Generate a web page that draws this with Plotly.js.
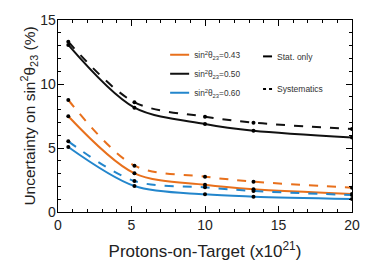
<!DOCTYPE html>
<html><head><meta charset="utf-8">
<script src="https://cdn.plot.ly/plotly-3.0.1.min.js"></script>
<style>html,body{margin:0;padding:0;background:#fff}#c{width:392px;height:266px}</style>
</head><body><div id="c"></div>
<script>
var pot = [0.7, 5.2, 10, 13.3, 20];
var stat043 = [7.48, 3.02, 2.12, 1.77, 1.41];
var syst043 = [8.75, 3.62, 2.76, 2.37, 1.90];
var stat050 = [13.05, 8.15, 6.88, 6.35, 5.83];
var syst050 = [13.30, 8.57, 7.45, 6.98, 6.48];
var stat060 = [5.08, 2.03, 1.38, 1.20, 1.02];
var syst060 = [5.52, 2.42, 1.93, 1.64, 1.33];
var seriesLabels = ['sin<sup>2</sup>θ<sub>23</sub>=0.43','sin<sup>2</sup>θ<sub>23</sub>=0.50','sin<sup>2</sup>θ<sub>23</sub>=0.60'];
var styleLabels = ['Stat. only','Systematics'];

var colors = ['#e8701c','#111111','#2386cc'];
var statSets = [stat043, stat050, stat060];
var systSets = [syst043, syst050, syst060];
var traces = [];
for (var i=0;i<3;i++){
  traces.push({x:pot, y:systSets[i], mode:'lines+markers', line:{color:colors[i], width:2, dash:'dash', shape:'spline', smoothing:0.9},
    marker:{color:'#000', size:4}, showlegend:false, hoverinfo:'skip'});
  traces.push({x:pot, y:statSets[i], mode:'lines+markers', line:{color:colors[i], width:2, shape:'spline', smoothing:0.9},
    marker:{color:'#000', size:4}, showlegend:false, hoverinfo:'skip'});
}
for (var j=0;j<3;j++){
  traces.push({x:[null], y:[null], mode:'lines', name:seriesLabels[j], line:{color:colors[j], width:2}, legend:'legend', showlegend:true});
}
traces.push({x:[null], y:[null], mode:'lines', name:styleLabels[0], line:{color:'#000', width:2}, legend:'legend2', showlegend:true});
traces.push({x:[null], y:[null], mode:'lines', name:styleLabels[1], line:{color:'#000', width:2, dash:'3px,3px'}, legend:'legend3', showlegend:true});

var fam = 'Liberation Sans, Arial, sans-serif';
var tickFont = {family:fam, size:14, color:'#222'};
var layout = {
  width:392, height:266,
  margin:{l:58, r:40, t:20, b:54},
  paper_bgcolor:'#fff', plot_bgcolor:'#fff',
  font:{family:fam, color:'#222'},
  xaxis:{range:[0,20], tickvals:[0,5,10,15,20], ticks:'inside', ticklen:6, tickwidth:1, tickcolor:'#000',
    minor:{dtick:1, ticks:'inside', ticklen:3, tickcolor:'#000'},
    showline:true, linecolor:'#000', linewidth:1.4, mirror:'ticks', showgrid:false, zeroline:false,
    tickfont:tickFont, title:{text:'Protons-on-Target (x10<sup>21</sup>)', font:{family:fam, size:17, color:'#222'}, standoff:13}},
  yaxis:{range:[0,15], tickvals:[0,5,10,15], ticks:'inside', ticklen:6, tickwidth:1, tickcolor:'#000',
    minor:{dtick:1, ticks:'inside', ticklen:3, tickcolor:'#000'},
    showline:true, linecolor:'#000', linewidth:1.4, mirror:'ticks', showgrid:false, zeroline:false,
    ticklabelstandoff:-2,
    tickfont:tickFont, title:{text:'Uncertainty on sin<sup>2</sup>θ<sub>23</sub> (%)', font:{family:fam, size:15.5, color:'#222'}, standoff:0}},
  legend:{x:0.327, y:0.894, xanchor:'left', yanchor:'top', bgcolor:'rgba(0,0,0,0)', font:{size:8.3, color:'#333'}, tracegroupgap:0, itemwidth:30},
  legend2:{x:0.609, y:0.886, xanchor:'left', yanchor:'top', bgcolor:'rgba(0,0,0,0)', font:{size:8.5, color:'#333'}, itemwidth:30},
  legend3:{x:0.609, y:0.716, xanchor:'left', yanchor:'top', bgcolor:'rgba(0,0,0,0)', font:{size:8.5, color:'#333'}, itemwidth:30},
  showlegend:true
};
Plotly.newPlot('c', traces, layout, {displayModeBar:false, staticPlot:true}).then(function(gd){
  // shorten legend symbol lines to match the reference's compact key
  var setLen = function(sel, d){
    gd.querySelectorAll(sel + ' .legendlines path').forEach(function(p){ p.setAttribute('d', d); });
  };
  setLen('g.legend', 'M16,0h19');
  setLen('g.legend2', 'M26,0h9');
  setLen('g.legend3', 'M26,0h9');
});
</script></body></html>
